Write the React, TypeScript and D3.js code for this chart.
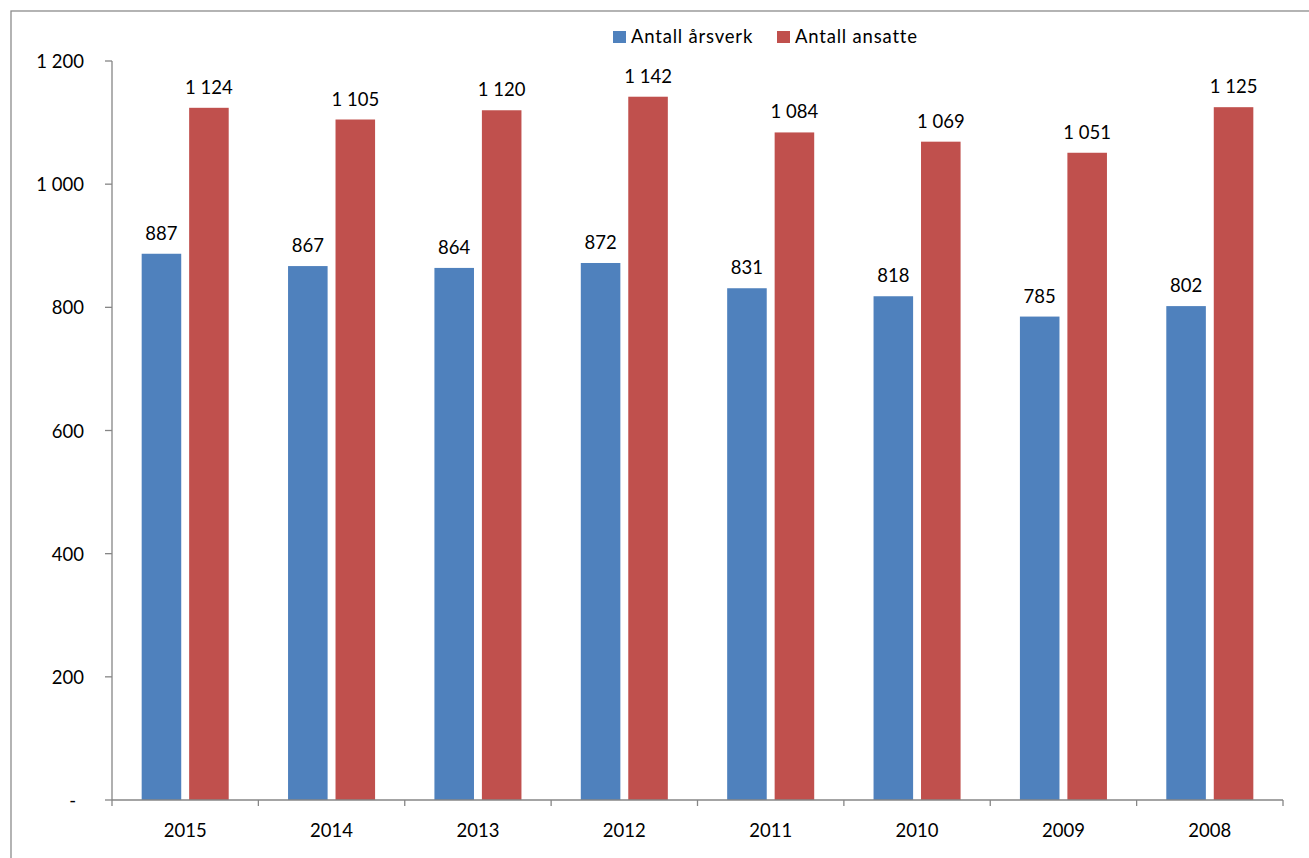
import React from "react";
import * as d3 from "d3";

const years = ["2015", "2014", "2013", "2012", "2011", "2010", "2009", "2008"];
const arsverk = [887, 867, 864, 872, 831, 818, 785, 802];
const ansatte = [1124, 1105, 1120, 1142, 1084, 1069, 1051, 1125];
const yTicks = [0, 200, 400, 600, 800, 1000, 1200];
const seriesNames = ["Antall årsverk", "Antall ansatte"];
const seriesColors = ["#4F81BD", "#C0504D"];

const locale = d3.formatLocale({ decimal: ",", thousands: "\u00a0", grouping: [3], currency: ["", " kr"] });
const fmt = (v: number) => (v === 0 ? "-" : locale.format(",")(v).replace(/\u00a0/g, " "));

export default function App() {
  const W = 1309, H = 858;
  const x = d3.scaleBand<string>().domain(years).range([112, 1283]).paddingInner(0).paddingOuter(0);
  const y = d3.scaleLinear().domain([0, 1200]).range([800, 61]);
  const bw = x.bandwidth();
  const w = bw / 3.7;
  const font = "Lato, 'Open Sans', sans-serif";
  const series = [arsverk, ansatte];
  const axisColor = "#868686";

  return (
    <svg width={W} height={H} style={{ position: "absolute", left: 0, top: 0, background: "#fff" }} fontFamily={font}>
      <rect x={11} y={11} width={W + 20} height={H + 20} fill="#fff" stroke="#8c8c8c" strokeWidth={1.3} />
      {/* legend */}
      {seriesNames.map((n, i) => {
        const lx = i === 0 ? 613 : 777;
        return (
          <g key={n}>
            <rect x={lx} y={31} width={13} height={12} fill={seriesColors[i]} />
            <text x={lx + 18} y={43} fontSize={18.5} letterSpacing={0.8} fill="#000">{n}</text>
          </g>
        );
      })}
      {/* y axis */}
      <line x1={112} x2={112} y1={y(1200)} y2={y(0)} stroke={axisColor} strokeWidth={1.3} />
      {yTicks.map((t) => (
        <g key={t}>
          <line x1={105} x2={112} y1={y(t)} y2={y(t)} stroke={axisColor} strokeWidth={1.3} />
          <text x={t === 0 ? 76 : 84} y={y(t) + 7} textAnchor="end" fontSize={18.5} fill="#000">{fmt(t)}</text>
        </g>
      ))}
      {/* bars */}
      {years.map((yr, ci) => {
        const x0 = x(yr)!;
        return (
          <g key={yr}>
            {series.map((s, si) => {
              const bx = x0 + 0.75 * w + si * 1.2 * w;
              const v = s[ci];
              return (
                <g key={si}>
                  <rect x={bx} y={y(v)} width={w} height={y(0) - y(v)} fill={seriesColors[si]} />
                  <text x={bx + w / 2} y={y(v) - 14} textAnchor="middle" fontSize={18.5} fill="#000">{fmt(v)}</text>
                </g>
              );
            })}
            <text x={x0 + bw / 2} y={836.5} textAnchor="middle" fontSize={18.5} fill="#000">{yr}</text>
          </g>
        );
      })}
      {/* x axis */}
      <line x1={112} x2={1283} y1={y(0)} y2={y(0)} stroke={axisColor} strokeWidth={1.3} />
      {[...years.map((yr) => x(yr)!), 1283].map((tx, i) => (
        <line key={i} x1={tx} x2={tx} y1={y(0)} y2={y(0) + 6} stroke={axisColor} strokeWidth={1.3} />
      ))}
    </svg>
  );
}
